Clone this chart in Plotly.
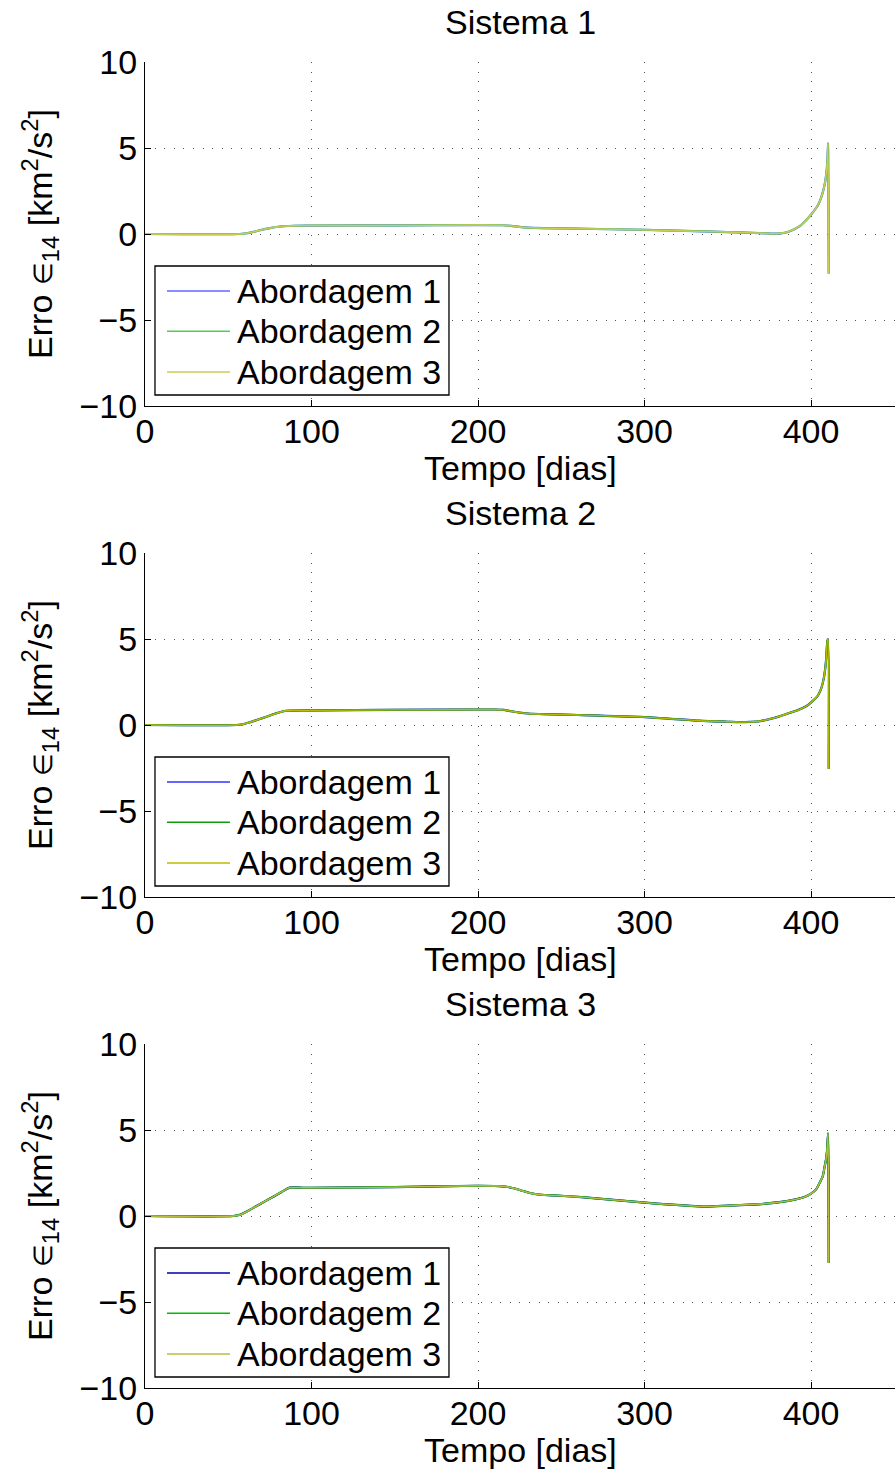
import plotly.graph_objects as go

# ---------------- data ----------------
approaches = ["Abordagem 1", "Abordagem 2", "Abordagem 3"]
titles = ["Sistema 1", "Sistema 2", "Sistema 3"]
x_label = "Tempo [dias]"
y_label = ("Erro <span style=\"font-size:26px\">\u2208</span><sub>14</sub> "
           "[km<sup>2</sup>/s<sup>2</sup>]")

t_sis1 = [0, 57, 60, 65, 70, 75, 80, 84, 90, 100, 150, 200, 215, 220, 225, 230, 240, 260, 300, 340, 360, 372, 378,
          382, 386, 390, 394, 398, 401, 404, 406, 408, 409, 409.8, 410.2, 410.6]
e_sis1 = [0, 0, 0.03, 0.12, 0.24, 0.34, 0.42, 0.46, 0.48, 0.49, 0.50, 0.52, 0.51, 0.47, 0.41, 0.37, 0.34, 0.31, 0.24, 0.14, 0.08, 0.04, 0.02,
          0.04, 0.12, 0.28, 0.52, 0.90, 1.25, 1.65, 2.10, 2.80, 3.40, 4.20, 5.27, -2.29]

t_sis2 = [0, 55, 58, 63, 68, 73, 78, 82, 85, 90, 100, 150, 200, 210, 215, 220, 225, 230, 240, 260, 300, 333, 350, 357,
          363, 369, 375, 381, 387, 393, 398, 401, 404, 406, 407.8, 409, 409.8, 410.2, 410.6]
e_sis2 = [0, 0, 0.03, 0.16, 0.32, 0.48, 0.65, 0.77, 0.83, 0.84, 0.85, 0.88, 0.90, 0.90, 0.88, 0.80, 0.72, 0.67, 0.63, 0.58, 0.46, 0.25, 0.19, 0.17,
          0.18, 0.22, 0.34, 0.50, 0.70, 0.90, 1.15, 1.40, 1.70, 2.10, 2.80, 3.76, 4.90, 5.00, -2.55]

t_sis3 = [0, 53, 57, 62, 67, 72, 77, 82, 87, 95, 100, 150, 200, 212, 217, 222, 227, 232, 236, 245, 262, 300, 335, 350,
          373, 390, 396, 400, 403, 405, 407, 408, 409, 409.6, 410.2, 410.6]
e_sis3 = [0, 0, 0.07, 0.30, 0.58, 0.85, 1.12, 1.40, 1.65, 1.64, 1.64, 1.68, 1.76, 1.74, 1.70, 1.60, 1.45, 1.32, 1.25, 1.20, 1.10, 0.78, 0.55, 0.60,
          0.72, 0.95, 1.10, 1.30, 1.55, 1.90, 2.30, 2.80, 3.30, 3.80, 4.80, -2.72]

colors_sis1 = ["#6666ff", "#55cc55", "#cccc55"]
colors_sis2 = ["#3333ff", "#119911", "#bbbb00"]
colors_sis3 = ["#0000aa", "#00bb00", "#bbbb44"]

x_ticks = [0, 100, 200, 300, 400]
y_ticks = [-10, -5, 0, 5, 10]
x_range = [0, 450.4]
y_range = [-10, 10]

systems = [
    (t_sis1, e_sis1, colors_sis1),
    (t_sis2, e_sis2, colors_sis2),
    (t_sis3, e_sis3, colors_sis3),
]

# ---------------- layout constants ----------------
W, H = 895, 1470
FONT = "Liberation Sans, Arial, Helvetica, sans-serif"
FS = 34
plot_top_px = [62, 553, 1044]
plot_h_px = 344

fig = go.Figure()
layout_axes = {}
shapes = []
annotations = []

for i, (t, e, cols) in enumerate(systems):
    n = i + 1
    xa = "x" if n == 1 else f"x{n}"
    ya = "y" if n == 1 else f"y{n}"
    xkey = "xaxis" if n == 1 else f"xaxis{n}"
    ykey = "yaxis" if n == 1 else f"yaxis{n}"
    top = plot_top_px[i]
    dom = [1 - (top + plot_h_px) / H, 1 - top / H]

    for j, name in enumerate(approaches):
        fig.add_trace(go.Scatter(
            x=t, y=e, mode="lines", name=name,
            line=dict(color=cols[j], width=[2.2, 2.0, 1.4][j], shape="spline", smoothing=0.6),
            xaxis=xa, yaxis=ya, showlegend=False,
        ))

    common = dict(
        ticks="inside", ticklen=6, tickcolor="black",
        showline=True, linecolor="black", linewidth=1, mirror=False,
        showgrid=True, gridcolor="#555555", gridwidth=1, griddash="1px,8.6px",
        zeroline=False, tickfont=dict(family=FONT, size=FS, color="black"),
        automargin=False,
    )
    layout_axes[xkey] = dict(domain=[0, 1], range=x_range, anchor=ya, tickvals=x_ticks,
                             ticklabelstandoff=-5, **common)
    layout_axes[ykey] = dict(
        domain=dom, range=y_range, anchor=xa, tickvals=y_ticks,
        title=dict(text=y_label, font=dict(family=FONT, size=FS, color="black"), standoff=16),
        **common,
    )

    dref_x, dref_y = f"{xa} domain", f"{ya} domain"

    # subplot title
    annotations.append(dict(
        text=titles[i], xref="paper", yref=dref_y, x=0.5, y=1 + 40 / plot_h_px,
        xanchor="center", yanchor="middle", showarrow=False,
        font=dict(family=FONT, size=FS, color="black"),
    ))
    # x axis title
    annotations.append(dict(
        text=x_label, xref="paper", yref=dref_y, x=0.5, y=-62 / plot_h_px,
        xanchor="center", yanchor="middle", showarrow=False,
        font=dict(family=FONT, size=FS, color="black"),
    ))

    # legend box (axis-domain coordinates)
    shapes.append(dict(type="rect", xref=dref_x, yref=dref_y,
                       x0=0.0133, x1=0.4053, y0=0.032, y1=0.407,
                       line=dict(color="black", width=1.3), fillcolor="white", layer="above"))
    rows = [0.334, 0.217, 0.099]
    for j, name in enumerate(approaches):
        shapes.append(dict(type="line", xref=dref_x, yref=dref_y,
                           x0=0.0293, x1=0.1133, y0=rows[j], y1=rows[j],
                           line=dict(color=cols[j], width=1.5), layer="above"))
        annotations.append(dict(
            text=name, xref=dref_x, yref=dref_y, x=0.1200, y=rows[j],
            xanchor="left", yanchor="middle", showarrow=False,
            font=dict(family=FONT, size=FS, color="black"),
        ))

fig.update_layout(
    width=W, height=H,
    margin=dict(l=145, r=0, t=0, b=0, autoexpand=False),
    paper_bgcolor="white", plot_bgcolor="white",
    showlegend=False,
    shapes=shapes, annotations=annotations,
    **layout_axes,
)

fig.write_html(
    "out.html",
    config={"displayModeBar": False},
    post_script="document.body.style.margin='0';document.body.style.overflow='hidden';",
)
